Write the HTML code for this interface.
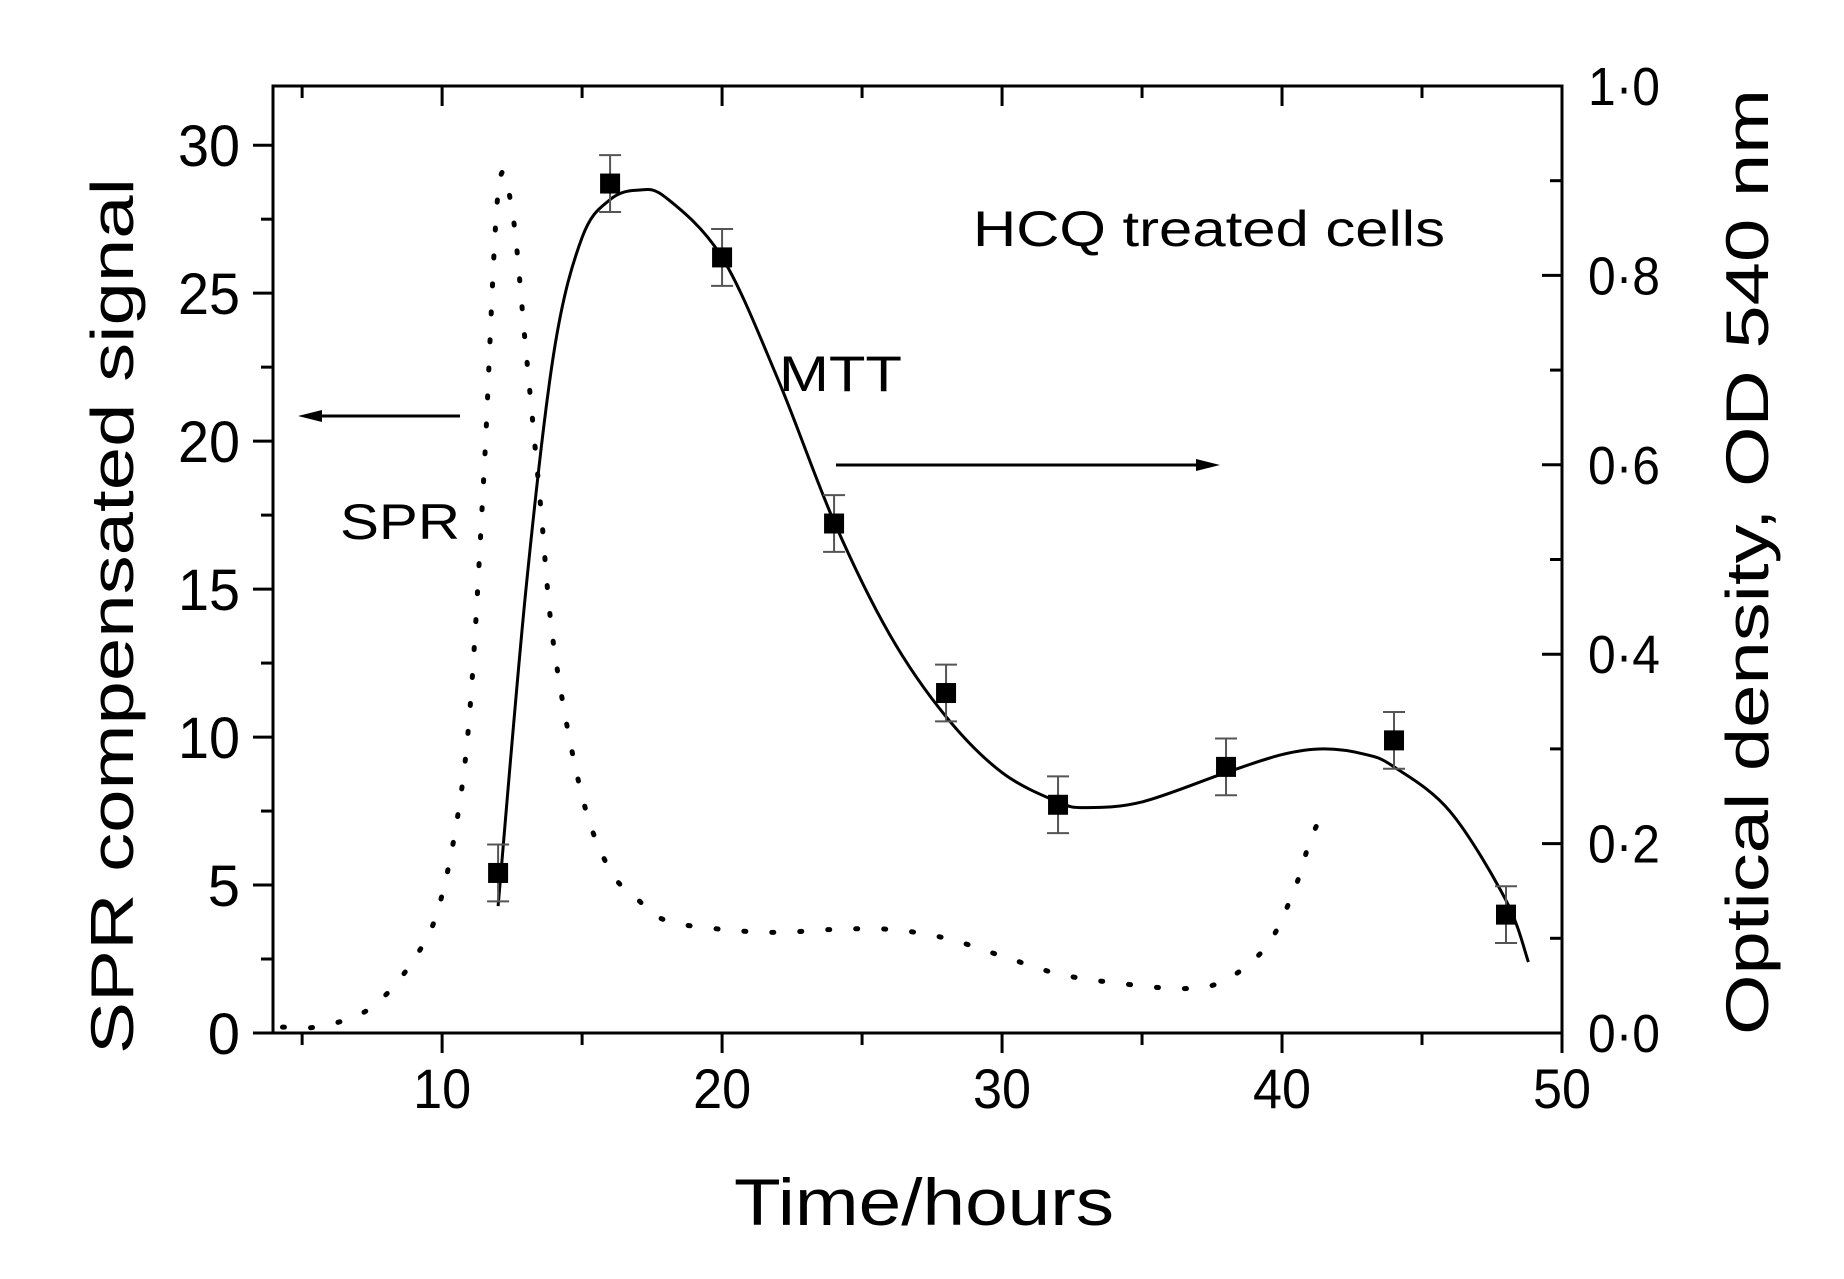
<!DOCTYPE html>
<html><head><meta charset="utf-8"><style>
html,body{margin:0;padding:0;background:#fff;}
svg{display:block;font-family:"Liberation Sans",sans-serif;}
</style></head><body>
<svg id="chart" width="1844" height="1279" viewBox="0 0 1844 1279">
<g id="axes"></g>
<g id="marks"></g>
<text x="0" y="0" font-size="60" text-anchor="middle" transform="translate(133,616) rotate(-90)" textLength="876" lengthAdjust="spacingAndGlyphs">SPR compensated signal</text>
<text x="0" y="0" font-size="60" text-anchor="middle" transform="translate(1768,562) rotate(-90)" textLength="946" lengthAdjust="spacingAndGlyphs">Optical density, OD 540 nm</text>
<text x="924" y="1225" font-size="66" text-anchor="middle" textLength="380" lengthAdjust="spacingAndGlyphs">Time/hours</text>
<text x="973" y="246" font-size="50" textLength="472" lengthAdjust="spacingAndGlyphs">HCQ treated cells</text>
<text x="779" y="391" font-size="50" textLength="123" lengthAdjust="spacingAndGlyphs">MTT</text>
<text x="340" y="539" font-size="50" textLength="120" lengthAdjust="spacingAndGlyphs">SPR</text>
<g>
<line x1="460" y1="416" x2="310" y2="416" stroke="#000" stroke-width="3"/>
<polygon points="298,416 322,410 322,422" fill="#000"/>
</g>
<g>
<line x1="836" y1="465" x2="1208" y2="465" stroke="#000" stroke-width="3"/>
<polygon points="1220,465 1196,459 1196,471" fill="#000"/>
</g>
</svg>
<script>
const mttTimes=[12,16,20,24,28,32,38,44,48];
const mttOD=[0.169,0.897,0.819,0.538,0.359,0.241,0.281,0.309,0.125];
const mttErr=[0.03,0.03,0.03,0.03,0.03,0.03,0.03,0.03,0.03];
const fitTimes=[12,13,14,15,16,17,18,20,22,24,26,28,30,32,33,35,38,40,41.5,43,44,46,48,48.8];
const fitOD=[0.134,0.47,0.72,0.84,0.88,0.89,0.882,0.819,0.69,0.54,0.42,0.334,0.275,0.244,0.238,0.244,0.275,0.294,0.30,0.294,0.281,0.234,0.14,0.075];
const sprTimes=[4.3,5.5,7,8,9,9.8,10.5,11,11.5,12,12.5,13,13.5,14,15,16,17,18,20,22,24,26,28,30,32,34,36.5,38,39.5,40.5,41,41.5];
const sprSignal=[0.2,0.2,0.6,1.3,2.5,4,7,11,19,28.4,27.8,23,18,13,8,5.5,4.5,3.8,3.5,3.4,3.5,3.5,3.2,2.6,2.0,1.7,1.5,1.8,3,5,6.5,7.5];
const xTicks=[10,20,30,40,50];
const yLeftTicks=[0,5,10,15,20,25,30];
const yRightTicks=[0.0,0.2,0.4,0.6,0.8,1.0];

const L=273,R=1562,T=86,B=1033;
const X0=3.96,X1=50;
const xs=v=>L+(v-X0)/(X1-X0)*(R-L);
const yl=v=>B-v/32*(B-T);
const yr=v=>B-v*(B-T);
const NS="http://www.w3.org/2000/svg";
const axes=document.getElementById('axes'),marks=document.getElementById('marks');
function mk(tag,attrs,parent){const e=document.createElementNS(NS,tag);for(const k in attrs)e.setAttribute(k,attrs[k]);parent.appendChild(e);return e;}

const frame=mk('rect',{x:L,y:T,width:R-L,height:B-T,fill:'none',stroke:'#000','stroke-width':3},axes);



for(let v=5;v<=50;v+=5){
  const major=v%10===0, x=xs(v);
  const t=mk('line',{x1:x,y1:B,x2:x,y2:B+(major?20:12),stroke:'#000','stroke-width':3},axes);
  
  
  const t2=mk('line',{x1:x,y1:T,x2:x,y2:T+(major?20:12),stroke:'#000','stroke-width':3},axes);
  
  
}
xTicks.forEach(v=>{
  const tx=mk('text',{x:xs(v),y:1108,'font-size':56,'text-anchor':'middle',textLength:58,lengthAdjust:'spacingAndGlyphs'},axes);
  tx.textContent=v;
  
  
});
for(let v=0;v<=32;v+=2.5){
  const major=v%5===0,y=yl(v);
  const t=mk('line',{x1:L,y1:y,x2:L-(major?20:12),y2:y,stroke:'#000','stroke-width':3},axes);
  
  
}
yLeftTicks.forEach(v=>{
  const tx=mk('text',{x:240,y:yl(v)+21,'font-size':58,'text-anchor':'end'},axes);
  if(v>=10){tx.setAttribute('textLength',62);tx.setAttribute('lengthAdjust','spacingAndGlyphs');}
  tx.textContent=v;
  
  
});
for(let i=0;i<=10;i++){
  const v=i/10,major=i%2===0,y=yr(v);
  const t=mk('line',{x1:R,y1:y,x2:R-(major?20:12),y2:y,stroke:'#000','stroke-width':3},axes);
  
  
}
yRightTicks.forEach(v=>{
  const tx=mk('text',{x:1588,y:yr(v)+19,'font-size':54,textLength:72,lengthAdjust:'spacingAndGlyphs'},axes);
  tx.textContent=v.toFixed(1).replace('.','·');
  
  
});

function smooth(px){
  let d='M'+px[0][0]+','+px[0][1];
  for(let i=0;i<px.length-1;i++){
    const p0=px[Math.max(0,i-1)],p1=px[i],p2=px[i+1],p3=px[Math.min(px.length-1,i+2)];
    const c1=[p1[0]+(p2[0]-p0[0])/6,p1[1]+(p2[1]-p0[1])/6];
    const c2=[p2[0]-(p3[0]-p1[0])/6,p2[1]-(p3[1]-p1[1])/6];
    d+=' C'+c1[0]+','+c1[1]+' '+c2[0]+','+c2[1]+' '+p2[0]+','+p2[1];
  }
  return d;
}
const spr=mk('path',{d:smooth(sprTimes.map((t,i)=>[xs(t),yl(sprSignal[i])])),fill:'none',stroke:'#000','stroke-width':5,'stroke-dasharray':'2 26','stroke-linecap':'round'},marks);



const fit=mk('path',{d:smooth(fitTimes.map((t,i)=>[xs(t),yr(fitOD[i])])),fill:'none',stroke:'#000','stroke-width':3},marks);



mttTimes.forEach((t,i)=>{
  const x=xs(t),y=yr(mttOD[i]),y1=yr(mttOD[i]+mttErr[i]),y2=yr(mttOD[i]-mttErr[i]);
  const g=mk('g',{stroke:'#555','stroke-width':2},marks);
  
  
  mk('line',{x1:x,y1:y1,x2:x,y2:y2},g);
  mk('line',{x1:x-11,y1:y1,x2:x+11,y2:y1},g);
  mk('line',{x1:x-11,y1:y2,x2:x+11,y2:y2},g);
  const r=mk('rect',{x:x-10,y:y-10,width:20,height:20,fill:'#000'},marks);
  
  
});
</script>
</body></html>
